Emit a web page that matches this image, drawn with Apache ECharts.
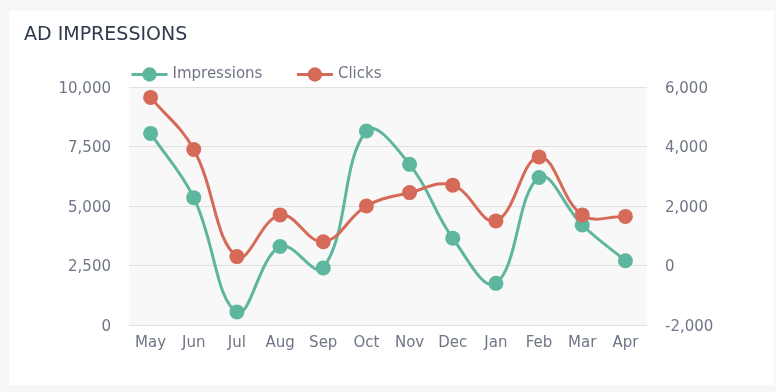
<!DOCTYPE html>
<html>
<head>
<meta charset="utf-8">
<script src="https://cdn.jsdelivr.net/npm/echarts@6/dist/echarts.min.js"></script>
<style>
html,body{margin:0;padding:0;background:#f7f7f7;}
#card{position:absolute;left:9px;top:11px;width:765px;height:374px;background:#ffffff;}
#chart{position:absolute;left:0;top:0;width:776px;height:392px;}
</style>
</head>
<body>
<div id="card"></div>
<div id="chart"></div>
<script>
var months = ['May','Jun','Jul','Aug','Sep','Oct','Nov','Dec','Jan','Feb','Mar','Apr'];
var impressions = [8050, 5350, 550, 3300, 2400, 8150, 6750, 3650, 1750, 6200, 4200, 2700];
var clicks = [5650, 3900, 300, 1700, 800, 2000, 2450, 2700, 1500, 3650, 1700, 1650];
var leftTicks = {min: 0, max: 10000, interval: 2500};
var rightTicks = {min: -2000, max: 6000, interval: 2000};

var font = 'DejaVu Sans';
var labelColor = '#6e7585';
var teal = '#5db69d';
var red = '#d66a58';
var TENSION = 0.4;

function splinePath(api, values) {
  var pts = values.map(function (v, i) { return api.coord([i, v]); });
  var n = pts.length;
  var cps = [];
  for (var i = 0; i < n; i++) {
    var cur = pts[i];
    var prev = i > 0 ? pts[i - 1] : cur;
    var next = i < n - 1 ? pts[i + 1] : cur;
    var d01 = Math.hypot(cur[0] - prev[0], cur[1] - prev[1]);
    var d12 = Math.hypot(next[0] - cur[0], next[1] - cur[1]);
    var s = d01 + d12 || 1;
    var fa = TENSION * d01 / s, fb = TENSION * d12 / s;
    cps.push({
      p: [cur[0] - fa * (next[0] - prev[0]), cur[1] - fa * (next[1] - prev[1])],
      n: [cur[0] + fb * (next[0] - prev[0]), cur[1] + fb * (next[1] - prev[1])]
    });
  }
  var d = 'M' + pts[0][0] + ' ' + pts[0][1];
  for (var j = 0; j < n - 1; j++) {
    d += ' C' + cps[j].n[0] + ' ' + cps[j].n[1] + ' ' + cps[j + 1].p[0] + ' ' + cps[j + 1].p[1] + ' ' + pts[j + 1][0] + ' ' + pts[j + 1][1];
  }
  return d;
}

function curveSeries(values, axisIdx, color) {
  return {
    type: 'custom', yAxisIndex: axisIdx, silent: true,
    data: values.map(function (v, i) { return [i, v]; }),
    encode: {x: 0, y: 1},
    renderItem: function (params, api) {
      if (params.dataIndex !== 0) return null;
      return {
        type: 'path',
        shape: {pathData: splinePath(api, values)},
        style: {stroke: color, lineWidth: 3, fill: null}
      };
    }
  };
}

function yLabel(v) { return '{a|' + v.toLocaleString('en-US') + '}'; }
var yRich = {a: {fontFamily: font, fontSize: 15, color: labelColor, padding: [4, 0, 0, 0]}};

var chart = echarts.init(document.getElementById('chart'));
chart.setOption({
  animation: false,
  title: {
    text: 'AD IMPRESSIONS', left: 19, top: 21,
    textStyle: {fontFamily: font, fontSize: 19, fontWeight: 'normal', color: '#2d3a4b'}
  },
  legend: {
    left: 125, top: 62, itemWidth: 36, itemHeight: 18, itemGap: 33,
    textStyle: {fontFamily: font, fontSize: 15, color: labelColor},
    data: [
      {name: 'Impressions', lineStyle: {opacity: 1, width: 3, color: teal}},
      {name: 'Clicks', lineStyle: {opacity: 1, width: 3, color: red}}
    ]
  },
  grid: {left: 129, right: 129, top: 87, bottom: 67, show: true, backgroundColor: '#f8f8f8', borderWidth: 0},
  xAxis: {
    type: 'category', data: months, boundaryGap: true,
    axisLine: {show: true, lineStyle: {color: '#e0e0e0', width: 1}},
    axisTick: {show: false},
    axisLabel: {fontFamily: font, fontSize: 15, color: labelColor, margin: 11}
  },
  yAxis: [
    {
      type: 'value', min: leftTicks.min, max: leftTicks.max, interval: leftTicks.interval,
      axisLine: {show: false}, axisTick: {show: false},
      splitLine: {lineStyle: {color: '#e0e0e0', width: 1}},
      axisLabel: {fontFamily: font, fontSize: 15, color: labelColor, margin: 18, formatter: yLabel, rich: yRich}
    },
    {
      type: 'value', min: rightTicks.min, max: rightTicks.max, interval: rightTicks.interval,
      axisLine: {show: false}, axisTick: {show: false},
      splitLine: {show: false},
      axisLabel: {fontFamily: font, fontSize: 15, color: labelColor, margin: 18, formatter: yLabel, rich: yRich}
    }
  ],
  series: [
    curveSeries(impressions, 0, teal),
    {
      name: 'Impressions', type: 'line', yAxisIndex: 0, data: impressions,
      symbol: 'circle', symbolSize: 15,
      itemStyle: {color: teal}, lineStyle: {width: 3, color: teal, opacity: 0}
    },
    curveSeries(clicks, 1, red),
    {
      name: 'Clicks', type: 'line', yAxisIndex: 1, data: clicks,
      symbol: 'circle', symbolSize: 15,
      itemStyle: {color: red}, lineStyle: {width: 3, color: red, opacity: 0}
    }
  ]
});
</script>
</body>
</html>
